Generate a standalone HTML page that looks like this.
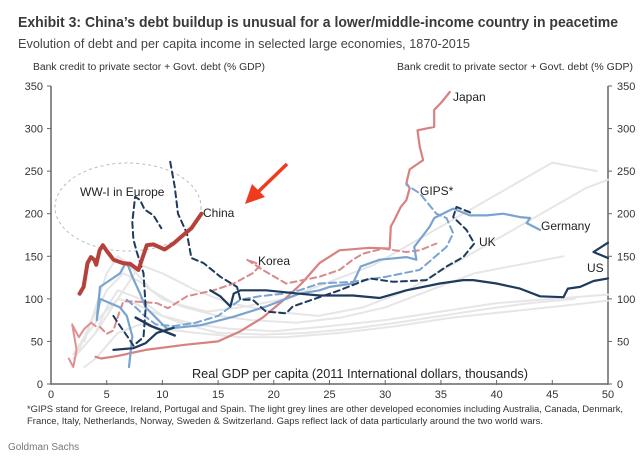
<!DOCTYPE html>
<html><head><meta charset="utf-8"><style>
html,body{margin:0;padding:0;background:#fff;}
svg{display:block;font-family:"Liberation Sans",sans-serif;}
</style></head><body>
<svg id="chart" width="642" height="460" viewBox="0 0 642 460">
<text x="18" y="27" font-size="15" font-weight="bold" fill="#3a3a3a" textLength="600" lengthAdjust="spacingAndGlyphs">Exhibit 3: China’s debt buildup is unusual for a lower/middle-income country in peacetime</text>
<text x="18" y="48" font-size="13" fill="#444" textLength="452" lengthAdjust="spacingAndGlyphs">Evolution of debt and per capita income in selected large economies, 1870-2015</text>
<text x="33" y="70" font-size="10" fill="#333" textLength="232" lengthAdjust="spacingAndGlyphs">Bank credit to private sector + Govt. debt (% GDP)</text>
<text x="397" y="70" font-size="10" fill="#333" textLength="236" lengthAdjust="spacingAndGlyphs">Bank credit to private sector + Govt. debt (% GDP)</text>
<g id="grid"></g>
<g id="series"></g>
<g id="labels"></g>
<text x="27" y="412" font-size="9.5" fill="#333" textLength="596" lengthAdjust="spacingAndGlyphs">*GIPS stand for Greece, Ireland, Portugal and Spain. The light grey lines are other developed economies including Australia, Canada, Denmark,</text>
<text x="27" y="424" font-size="9.5" fill="#333" textLength="516" lengthAdjust="spacingAndGlyphs">France, Italy, Netherlands, Norway, Sweden &amp; Switzerland. Gaps reflect lack of data particularly around the two world wars.</text>
<text x="8" y="450" font-size="10" fill="#777">Goldman Sachs</text>
</svg>
<script>
const xTicks=[0,5,10,15,20,25,30,35,40,45,50];
const yTicks=[0,50,100,150,200,250,300,350];
const chinaX=[2.57,2.93,3.28,3.58,3.88,4.06,4.36,4.66,4.96,5.31,5.61,6.45,7.10,7.85,8.6,9.2,10.2,11.0,11.7,12.6,13.5];
const chinaY=[106,114,142,149,146,140,157,163,157,151,146,142,141,134,163,164,158,165,173,183,200];
const japanEarlyX=[1.6,2.0,2.3,1.9,2.5,3.0,3.6,4.0];
const japanEarlyY=[30,20,40,70,55,65,72,68];
const japanX=[4.0,4.5,6,8.5,12,15,17,19,21,22.5,24.1,25.9,28.6,30.4,30.5,30.8,31.4,31.9,32.2,31.9,32.2,33.4,33.1,32.9,34.4,34.4,35.0,35.8];
const japanY=[32,30,33,40,46,50,62,78,100,118,142,157,160,159,185,192,208,216,230,236,252,263,279,298,302,322,330,343];
const koreaX=[4.4,5.0,5.6,6.1,6.5,7.4,9.5,10.5,12.2,14.6,16.4,18.1,18.7,18.4,17.6,19.0,21.1,24.1,25.9,27.1,28,29.8,31.9,33.1,34.6];
const koreaY=[67,59,63,83,97,97,95,89,103,110,118,130,138,142,146,134,118,126,134,146,153,159,155,157,165];
const germanyX=[7.0,7.3,6.8,6.2,5.3,4.4,4.1,4.4,5.3,6.2,6.7,6.96,7.3,8,8.5,10.4,13.4,16.4,19.3,22.3,24.1,25,27.1,27.8,29.5,31.9,32.8,32.6,34.0,34.4,36.1,37.6,39.1,40.6,42.1,43.0,42.7,43.9];
const germanyY=[20,56,80,90,95,100,75,114,122,130,142,138,126,106,90,65,69,79,91,106,110,114,118,138,146,149,146,161,185,195,206,198,198,200,196,195,189,181];
const gipsX=[6.8,7.6,8.4,9.4,11,13,15,17,18.7,20.8,22.3,24.1,27.1,30.1,33.1,35.5,36.1,35.5,34.6,33.1,31.9];
const gipsY=[99,90,80,70,68,72,80,99,103,106,110,118,120,126,134,161,177,195,200,224,234];
const ukEarlyX=[5.6,6.2,6.9,7.4,8.3,8.5,8.3,7.7,7.4,7.3,7.55,8.0,8.4,9.2,9.9];
const ukEarlyY=[80,68,55,45,55,90,130,155,170,190,220,216,205,198,183];
const ukX=[10.7,11.1,11.4,12.2,12.6,13.7,15.2,16.7,17.0,18.1,19.3,21.1,21.7,24.1,25.9,28.6,30.7,33.7,35.5,37.0,38.0,37.3,36.1,36.4,37.9];
const ukY=[261,232,200,177,148,142,126,114,99,99,85,83,91,102,110,124,120,122,138,149,165,181,196,208,200];
const usEarlyX=[5.6,7.4,8.5,9.5,11];
const usEarlyY=[40,42,48,60,66];
const usEarly2X=[7.6,9,11.1];
const usEarly2Y=[78,68,57];
const usX=[14.3,15.2,16.1,16.4,17,19.3,22.3,24.1,27.1,29.5,31.9,34.9,37,37.9,40,42.1,43.9,46,46.4,47.5,48.7,50];
const usY=[110,103,91,106,110,110,106,104,104,101,110,118,122,122,118,112,103,102,112,114,121,124];
const usEndX=[50,48.7,50];
const usEndY=[166,155,148];
const greyX=[
[2,3,4,5,6,8,10,13,16,20,25,30,35,40,45,50],
[2.5,3.5,5,6.5,8,10,12,15,18,22,26,30,34,38,42,46],
[3,4,5,6,7,9,11,14,17,21,25,29,33,37,41,45,49],
[2,3,4.5,6,7.5,9,12,15,19,23,27,31,35,39,43,47],
[4,5,6,7,8,10,13,16,20,24,28,32,36,40,44,48,50],
[3,4,5,6,8,10,13,17,21,26,31,36,41,46,50]];
const greyY=[
[30,45,60,90,110,100,80,70,65,62,68,75,85,95,100,105],
[40,70,110,130,120,100,90,80,75,72,78,90,110,130,140,150],
[50,90,130,150,140,110,95,85,90,100,120,140,170,200,230,260,250],
[35,55,80,100,95,85,70,60,58,60,65,72,80,88,95,100],
[60,80,100,120,140,130,110,95,85,80,90,110,140,170,200,230,240],
[20,30,45,60,70,65,60,55,55,60,68,78,85,92,98]];
const catNames=['gdp-per-capita','debt-pct-gdp'];

const X0=51,X1=608,Y0=384,Y1=86;
function sx(v){return X0+(v/50)*(X1-X0);}
function sy(v){return Y0-(v/350)*(Y0-Y1);}
const NS='http://www.w3.org/2000/svg';
function mk(tag,attrs,parent){const e=document.createElementNS(NS,tag);for(const k in attrs)e.setAttribute(k,attrs[k]);parent.appendChild(e);return e;}
const grid=document.getElementById('grid');
const ser=document.getElementById('series');
const lab=document.getElementById('labels');

function line(xs,ys,color,w,dash,name){
  let d='';for(let i=0;i<xs.length;i++){d+=(i?'L':'M')+sx(xs[i]).toFixed(1)+','+sy(ys[i]).toFixed(1);}
  const p=mk('path',{d:d,fill:'none',stroke:color,'stroke-width':w,'stroke-linejoin':'round','stroke-linecap':'round'},ser);
  if(dash)p.setAttribute('stroke-dasharray',dash);
  
  
  return p;
}
for(let g=0;g<greyX.length;g++){line(greyX[g],greyY[g],'#e6e6e6',2,null,'grey-line-'+g);}

// axes
const ax=mk('line',{x1:X0,y1:Y0,x2:X1,y2:Y0,stroke:'#666','stroke-width':1.5},grid);


const ayl=mk('line',{x1:X0,y1:Y1,x2:X0,y2:Y0,stroke:'#666','stroke-width':1.5},grid);


const ayr=mk('line',{x1:X1,y1:Y1,x2:X1,y2:Y0,stroke:'#666','stroke-width':1.5},grid);


xTicks.forEach(v=>{
  mk('line',{x1:sx(v),y1:Y0-4,x2:sx(v),y2:Y0+1,stroke:'#666'},grid);
  const t=mk('text',{x:sx(v),y:Y0+14,'font-size':11,'text-anchor':'middle',fill:'#333'},grid);
  t.textContent=v;
  
  
});
yTicks.forEach(v=>{
  mk('line',{x1:X0-4,y1:sy(v),x2:X0,y2:sy(v),stroke:'#666'},grid);
  mk('line',{x1:X1,y1:sy(v),x2:X1+4,y2:sy(v),stroke:'#666'},grid);
  const t=mk('text',{x:X0-8,y:sy(v)+4,'font-size':11,'text-anchor':'end',fill:'#333'},grid);
  t.textContent=v;
  
  
  const t2=mk('text',{x:X1+9,y:sy(v)+4,'font-size':11,'text-anchor':'start',fill:'#333'},grid);
  t2.textContent=v;
  
  
});

// ellipse
const el=mk('ellipse',{cx:128,cy:207,rx:73,ry:44,fill:'none',stroke:'#bbb','stroke-width':1,'stroke-dasharray':'3,3'},ser);



line(japanEarlyX,japanEarlyY,'#e09090',2,null,'japan-early-line');
line(japanX,japanY,'#d98080',2.2,null,'japan-line');
line(koreaX,koreaY,'#d98a8a',2,'6,4','korea-line');
line(germanyX,germanyY,'#7ba3d0',2.2,null,'germany-line');
line(gipsX,gipsY,'#7ba3d0',2,'7,4','gips-line');
line(ukEarlyX,ukEarlyY,'#1e3a5c',2,'6,4','uk-early-line');
line(ukX,ukY,'#1e3a5c',2,'6,4','uk-line');
line(usEarlyX,usEarlyY,'#1e3a5c',2.2,null,'us-early-line');
line(usEarly2X,usEarly2Y,'#1e3a5c',2.5,null,'us-early-line-2');
line(usX,usY,'#1e3a5c',2.2,null,'us-line');
line(usEndX,usEndY,'#1e3a5c',2.2,null,'us-end-line');
line(chinaX,chinaY,'#b5413a',4,null,'china-line');

// arrow
const ar=mk('g',{},lab);


mk('line',{x1:287,y1:164,x2:258,y2:192,stroke:'#f03a1e','stroke-width':3.5},ar);
mk('polygon',{points:'245,204 252,184 265,197',fill:'#f03a1e'},ar);

const labels=[['WW-I in Europe',80,196,'ww1-label'],['China',203,217,'china-label'],['Korea',258,265,'korea-label'],['Japan',453,101,'japan-label'],['GIPS*',420,195,'gips-label'],['Germany',541,230,'germany-label'],['UK',479,246,'uk-label'],['US',587,272,'us-label']];
labels.forEach(l=>{
  const t=mk('text',{x:l[1],y:l[2],'font-size':12,fill:'#222'},lab);
  t.textContent=l[0];
  
  
});
const xt=mk('text',{x:192,y:378,'font-size':13,fill:'#222',textLength:336,lengthAdjust:'spacingAndGlyphs'},lab);
xt.textContent='Real GDP per capita (2011 International dollars, thousands)';


</script>
</body></html>
